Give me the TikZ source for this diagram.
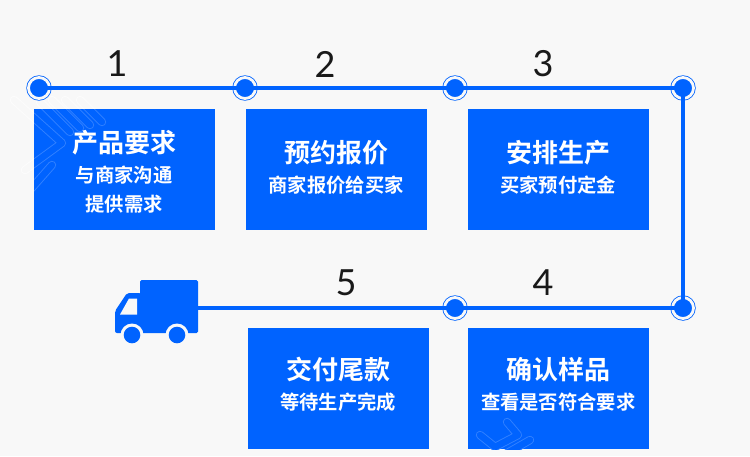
\documentclass[tikz,border=0pt]{standalone}
\usepackage{fontspec}
\setmainfont{Noto Sans CJK SC Bold}
\setsansfont{Lato}
\definecolor{mainblue}{HTML}{0063FF}
\definecolor{paper}{HTML}{F8F8F8}
\tikzset{
  card/.style={fill=mainblue, minimum width=181pt, minimum height=121pt, inner sep=0pt, anchor=north west},
  cardtext/.style={text=white, inner sep=0pt, align=center, font=\fontsize{19.3}{30}\selectfont},
  stop/.style={circle, fill=mainblue, draw=mainblue, line width=.8pt, double=paper, double distance=2.8pt, minimum size=21pt, inner sep=0pt},
  number/.style={font=\sffamily\fontsize{36}{36}\selectfont, text=black!90},
  route/.style={mainblue, line width=4.5pt},
  ghost/.style={white!20!mainblue, line width=.9pt, double=mainblue, double distance=6.5pt, line cap=round, line join=round},
  ghostout/.style={ghost, white!70!paper, double=paper},
}
\newcommand{\head}[1]{{\fontsize{26}{30}\selectfont #1}}
\begin{document}
\begin{tikzpicture}[x=1pt, y=-1pt]
  \useasboundingbox[fill=paper] (0,0) rectangle (750,456);
  % marks behind the first card
  \draw[ghostout] (70,132) -- (40,102);
  \draw[ghostout] (80,128) -- (52,100);
  \draw[ghostout] (90,125) -- (65,100);
  \draw[ghostout] (102,122) -- (80,100);
  \draw[ghostout] (14,100) -- (62,143) -- (25,170);
  % cards
  \node[card] (need) at (34,109) {};
  \node[card] (quote) at (246,109) {};
  \node[card] (make) at (468,109) {};
  \node[card] (pay) at (248,328) {};
  \node[card] (check) at (468,328) {};
  % marks on the cards
  \begin{scope}
    \clip (need.north west) rectangle (need.south east);
    \draw[ghost] (70,132) -- (40,102);
    \draw[ghost] (80,128) -- (52,100);
    \draw[ghost] (90,125) -- (65,100);
    \draw[ghost] (102,122) -- (80,100);
    \draw[ghost] (14,100) -- (62,143) -- (25,170);
    \draw[ghost] (30,190) -- (52,165);
  \end{scope}
  \begin{scope}
    \clip (check.north west) rectangle (check.south east);
    \draw[ghost] (480,435) -- (495,447) -- (518,435) -- (507,422);
    \draw[ghost] (495,460) -- (530,440);
  \end{scope}
  % card texts
  \node[cardtext] (needtext) at ([xshift=-.5pt, yshift=-2pt]need.center) {\head{产品要求}\\与商家沟通\\[-1pt]提供需求};
  \node[cardtext] (quotetext) at ([xshift=-.5pt, yshift=2pt]quote.center) {\head{预约报价}\\商家报价给买家};
  \node[cardtext] (maketext) at ([xshift=-.5pt, yshift=2pt]make.center) {\head{安排生产}\\买家预付定金};
  \node[cardtext] (paytext) at ([xshift=-.5pt, yshift=4pt]pay.center) {\head{交付尾款}\\等待生产完成};
  \node[cardtext] (checktext) at ([xshift=-.5pt, yshift=4pt]check.center) {\head{确认样品}\\查看是否符合要求};
  % stops
  \node[stop] (a) at (39,88) {};
  \node[stop] (b) at (245,88) {};
  \node[stop] (c) at (455,88) {};
  \node[stop] (d) at (683,88) {};
  \node[stop] (e) at (683,308) {};
  \node[stop] (f) at (455,308) {};
  \coordinate (truck) at (198,308);
  % route
  \draw[route] (a.center) -- (b.center) -- (c.center) -- (d.center) -- (e.center) -- (f.center) -- (truck);
  % numbers
  \node[number] (n1) at (117,64) {1};
  \node[number] (n2) at (325,64) {2};
  \node[number] (n3) at (543,64) {3};
  \node[number] (n4) at (543,283) {4};
  \node[number] (n5) at (346,283) {5};
  % truck
  \fill[mainblue, rounded corners=1.5pt] (140,280) rectangle (198,333);
  \fill[mainblue, rounded corners=2pt] (141,293) -- (127,293) -- (115,311) -- (115,333) -- (141,333) -- cycle;
  \fill[paper] (120,314.5) -- (129,298.5) -- (137,298.5) -- (137,314.5) -- cycle;
  \fill[paper] (132,335) circle (11.5) (177,335) circle (11.5);
  \fill[mainblue] (132,335) circle (8.3) (177,335) circle (8.3);
\end{tikzpicture}
\end{document}
